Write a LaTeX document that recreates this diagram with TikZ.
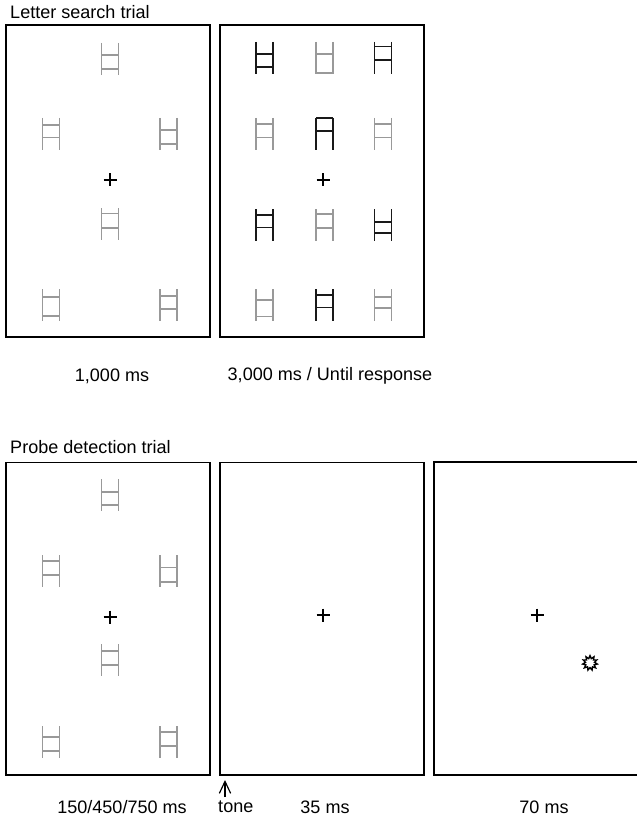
\documentclass[tikz,border=0pt]{standalone}
\usepackage{fontspec}
\setmainfont{Liberation Sans}
\usepackage{tikz}
\usetikzlibrary{shapes.geometric,positioning,calc,arrows.meta}
\definecolor{lettergray}{gray}{0.6}
\tikzset{
  panel/.style   = {draw=black, line width=1.7pt, minimum width=6.12cm,
                    minimum height=9.36cm, inner sep=0pt},
  dimlet/.style  = {draw=lettergray, line width=1.6pt},
  darklet/.style = {draw=black!90, line width=1.6pt},
  fixcross/.style= {draw=black, line width=1.3pt},
  timelbl/.style = {font=\fontsize{15.4}{18}\selectfont, inner sep=0pt},
  heading/.style = {font=\fontsize{15.4}{18}\selectfont, inner sep=0pt, anchor=west},
}
% ladder-shaped letter: centre x, centre y, bar 1, bar 2 (fractions from top), style
\newcommand{\ladder}[5]{%
  \draw[#5] ({#1-8.5},{#2-16}) -- ({#1-8.5},{#2+16})
            ({#1+8.5},{#2-16}) -- ({#1+8.5},{#2+16})
            ({#1-8.5},{#2-16+32*#3}) -- ({#1+8.5},{#2-16+32*#3})
            ({#1-8.5},{#2-16+32*#4}) -- ({#1+8.5},{#2-16+32*#4});}
\newcommand{\fixation}[2]{%
  \draw[fixcross] ({#1-6.5},#2) -- ({#1+6.5},#2) (#1,{#2-6.5}) -- (#1,{#2+6.5});}

\begin{document}
\begin{tikzpicture}[x=0.03cm, y=-0.03cm]
\useasboundingbox (0,0) rectangle (636,820);

%── Letter search trial ───────────────────────────────────────────
\node[heading] (lstitle) at (10,12) {Letter search trial};
\node[panel] (ls1) at (108,181) {};
\node[panel] (ls2) at (322,181) {};

% first display: six grey letters round the fixation cross
\foreach \cx/\cy/\a/\b in {110/59/.37/.82, 51/134/.22/.61, 168.5/134/.375/.81,
                           110/224/.17/.63, 51/305/.25/.85, 168.5/305/.22/.62}{
  \ladder{\cx}{\cy}{\a}{\b}{dimlet}
}
\fixation{110}{180}

% search display: 3 x 4 grid, grey and black letters
\foreach \cx/\cy/\a/\b/\s in {264.5/58/.38/.78/darklet, 324.5/58/.38/.97/dimlet, 383/58/.14/.57/darklet,
                              264.5/134/.2/.61/dimlet, 324.5/134/0/.4/darklet, 383/134/.2/.61/dimlet,
                              264.5/225/.2/.58/darklet, 324.5/225/.16/.6/dimlet, 383/225/.4/.75/darklet,
                              264.5/305/.34/.86/dimlet, 324.5/305/.19/.58/darklet, 383/305/.24/.6/dimlet}{
  \ladder{\cx}{\cy}{\a}{\b}{\s}
}
\fixation{323}{180}

\node[timelbl] (t1000) at (112,376) {1,000 ms};
\node[timelbl] (t3000) at (330,376) {3,000 ms / Until response};

%── Probe detection trial ─────────────────────────────────────────
\node[heading] (pdtitle) at (10,447) {Probe detection trial};
\node[panel] (pd1) at (108,618.5) {};
\node[panel] (pd2) at (322,618.5) {};
% last display runs off the right edge
\draw[line width=1.7pt] (640,462) -- (434,462) -- (434,775) -- (640,775);

\foreach \cx/\cy/\a/\b in {110/495/.4/.82, 51/571/.19/.62, 168.5/571/.39/.83,
                           110/660/.23/.65, 51/742/.34/.79, 168.5/742/.19/.63}{
  \ladder{\cx}{\cy}{\a}{\b}{dimlet}
}
\fixation{110}{617}
\fixation{323}{615}
\fixation{537}{615}

% probe
\node[star, star points=11, star point ratio=1.6, draw=black, line width=1.2pt,
      minimum size=0.44cm, inner sep=0pt] (probe) at (590,663) {};

% tone onset
\node[timelbl, anchor=west] (tone) at (218,807) {tone};
\coordinate (toneat) at (225,780);
\coordinate (tonefoot) at (225,797);
\draw[line width=1pt, -{Straight Barb[length=0.36cm, width=0.34cm]}] (tonefoot) -- (toneat);

\node[timelbl] (t150) at (122,807) {150/450/750 ms};
\node[timelbl] (t35)  at (325,807) {35 ms};
\node[timelbl] (t70)  at (544,807) {70 ms};

\end{tikzpicture}
\end{document}
